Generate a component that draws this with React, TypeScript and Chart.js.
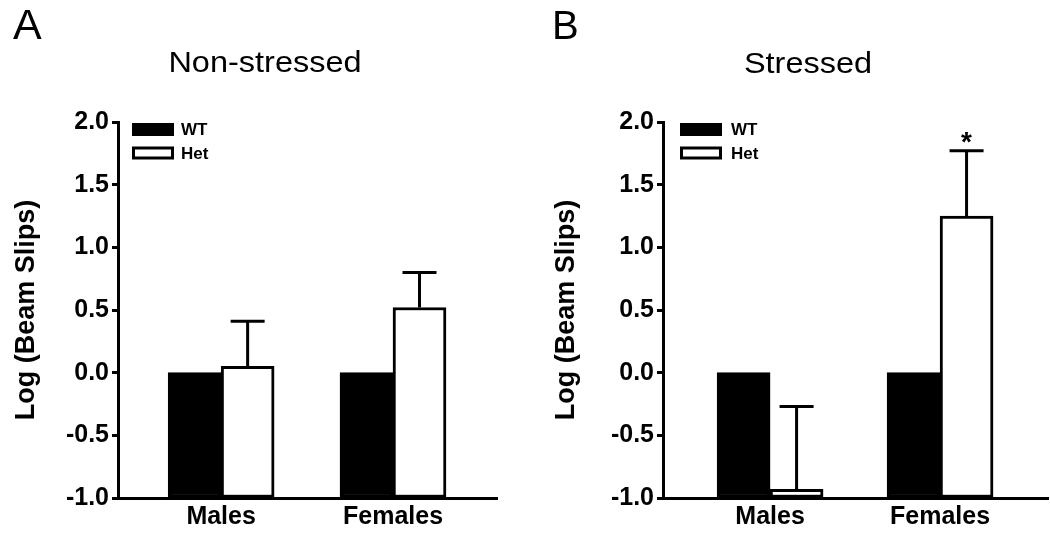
import { useEffect, useRef } from "react";
import { Chart, registerables } from "chart.js";

Chart.register(...registerables);

const FONT = "'Liberation Sans', Arial, Helvetica, sans-serif";

// ---- data ----
const categories = ["Males", "Females"];
const seriesNames = ["WT", "Het"];
const yTickValues = [-1, -0.5, 0, 0.5, 1, 1.5, 2];
const yAxisLabel = "Log (Beam Slips)";

const nonStressedWT = [0, 0];
const nonStressedWTErr = [0, 0];
const nonStressedHet = [0.05, 0.52];
const nonStressedHetErr = [0.36, 0.28];
const nonStressedHetSig = ["", ""];

const stressedWT = [0, 0];
const stressedWTErr = [0, 0];
const stressedHet = [-0.93, 1.25];
const stressedHetErr = [0.66, 0.52];
const stressedHetSig = ["", "*"];

const panelTitles = ["Non-stressed", "Stressed"];
const panelLetters = ["A", "B"];

// ---- layout (not data) ----
type Panel = {
  left: number;
  yAxisWidth: number;
  padRight: number;
  xMin: number;
  xMax: number;
  titlePad: number;
  legendOffset: number;
  legendGap: number;
  wt: number[];
  wtErr: number[];
  het: number[];
  hetErr: number[];
  hetSig: string[];
};

const panels: Panel[] = [
  {
    left: 0,
    yAxisWidth: 118,
    padRight: 28,
    xMin: -0.6,
    xMax: 1.605,
    titlePad: 10,
    legendOffset: 14,
    legendGap: 7,
    wt: nonStressedWT,
    wtErr: nonStressedWTErr,
    het: nonStressedHet,
    hetErr: nonStressedHetErr,
    hetSig: nonStressedHetSig,
  },
  {
    left: 525,
    yAxisWidth: 138,
    padRight: 2,
    xMin: -0.63,
    xMax: 1.635,
    titlePad: 25,
    legendOffset: 17,
    legendGap: 9,
    wt: stressedWT,
    wtErr: stressedWTErr,
    het: stressedHet,
    hetErr: stressedHetErr,
    hetSig: stressedHetSig,
  },
];

const errorBarPlugin = {
  id: "errorBars",
  afterDatasetsDraw(chart: any) {
    const ctx = chart.ctx;
    const yScale = chart.scales.y;
    ctx.save();
    ctx.strokeStyle = "#000";
    ctx.fillStyle = "#000";
    ctx.lineWidth = 3;
    ctx.lineCap = "butt";
    chart.data.datasets.forEach((ds: any, di: number) => {
      const meta = chart.getDatasetMeta(di);
      meta.data.forEach((el: any, i: number) => {
        const err = ds.errors ? ds.errors[i] : 0;
        const v = ds.data[i].y;
        const yBar = yScale.getPixelForValue(v);
        const yTop = yScale.getPixelForValue(v + (err || 0));
        if (err) {
          ctx.beginPath();
          ctx.moveTo(el.x, yBar);
          ctx.lineTo(el.x, yTop);
          ctx.moveTo(el.x - 17, yTop);
          ctx.lineTo(el.x + 17, yTop);
          ctx.stroke();
        }
        const sig = ds.sig ? ds.sig[i] : "";
        if (sig) {
          ctx.font = `bold 28px ${FONT}`;
          ctx.textAlign = "center";
          ctx.textBaseline = "alphabetic";
          ctx.fillText(sig, el.x, yTop);
        }
      });
    });
    ctx.restore();
  },
};

const legendPlugin = {
  id: "insideLegend",
  afterDraw(chart: any, _args: any, opts: any) {
    const ctx = chart.ctx;
    const { left, top } = chart.chartArea;
    ctx.save();
    chart.data.datasets.forEach((ds: any, i: number) => {
      const x = left + (opts.offset || 14);
      const y = top + 1 + i * 23.5;
      const w = 42;
      const h = 13;
      ctx.fillStyle = "#000";
      ctx.fillRect(x, y, w, h);
      if (ds.backgroundColor !== "#000") {
        ctx.fillStyle = ds.backgroundColor;
        ctx.fillRect(x + 3, y + 3, w - 6, h - 6);
      }
      ctx.fillStyle = "#000";
      ctx.font = `bold 17px ${FONT}`;
      ctx.textAlign = "left";
      ctx.textBaseline = "middle";
      ctx.fillText(ds.label, x + w + (opts.gap || 7), y + h / 2 + 1);
    });
    ctx.restore();
  },
};

function makeDataset(label: string, values: number[], errors: number[], sig: string[], color: string) {
  return {
    label,
    data: values.map((v, i) => ({ x: i, y: v })),
    errors,
    sig,
    backgroundColor: color,
    borderColor: "#000",
    borderWidth: 3,
    borderSkipped: false,
    base: -1,
    barThickness: 53,
  } as any;
}

function PanelChart({ p }: { p: Panel }) {
  const ref = useRef<HTMLCanvasElement | null>(null);
  useEffect(() => {
    if (!ref.current) return;
    const chart = new Chart(ref.current, {
      type: "bar",
      data: {
        datasets: [
          makeDataset(seriesNames[0], p.wt, p.wtErr, ["", ""], "#000"),
          makeDataset(seriesNames[1], p.het, p.hetErr, p.hetSig, "#fff"),
        ],
      },
      options: {
        animation: false,
        responsive: false,
        events: [],
        layout: { padding: { left: 0, right: p.padRight, top: 122, bottom: 0 } },
        plugins: {
          legend: { display: false },
          tooltip: { enabled: false },
          title: { display: false },
          insideLegend: { offset: p.legendOffset, gap: p.legendGap },
        } as any,
        scales: {
          x: {
            type: "linear",
            min: p.xMin,
            max: p.xMax,
            offset: false,
            grid: { display: false, drawTicks: false },
            border: { display: true, color: "#000", width: 3 },
            afterBuildTicks: (scale: any) => {
              scale.ticks = categories.map((_, i) => ({ value: i }));
            },
            afterFit: (scale: any) => {
              scale.height = 40;
            },
            ticks: {
              autoSkip: false,
              maxRotation: 0,
              padding: 4,
              color: "#000",
              font: { family: FONT, size: 25, weight: "bold" },
              callback: (v: any) => categories[Math.round(Number(v))] ?? "",
            },
          },
          y: {
            type: "linear",
            min: -1,
            max: 2,
            grid: {
              display: true,
              drawOnChartArea: false,
              drawTicks: true,
              tickLength: 6,
              tickWidth: 3,
              tickColor: "#000",
              color: "#000",
            },
            border: { display: true, color: "#000", width: 3 },
            afterBuildTicks: (scale: any) => {
              scale.ticks = yTickValues.map((v) => ({ value: v }));
            },
            afterFit: (scale: any) => {
              scale.width = p.yAxisWidth;
            },
            ticks: {
              padding: 3,
              color: "#000",
              font: { family: FONT, size: 25, weight: "bold" },
              callback: (v: any) => Number(v).toFixed(1),
            },
            title: {
              display: true,
              text: yAxisLabel,
              color: "#000",
              padding: { top: p.titlePad, bottom: 0 },
              font: { family: FONT, size: 27, weight: "bold" },
            },
          },
        },
      } as any,
      plugins: [errorBarPlugin, legendPlugin],
    });
    return () => chart.destroy();
  }, [p]);
  return (
    <canvas
      ref={ref}
      width={525}
      height={538}
      style={{ position: "absolute", left: p.left, top: 0, width: 525, height: 538, display: "block" }}
    />
  );
}

const textBase: any = {
  position: "absolute",
  fontFamily: FONT,
  color: "#000",
  lineHeight: 1,
  whiteSpace: "nowrap",
};

export default function App() {
  return (
    <div style={{ position: "absolute", left: 0, top: 0, width: 1050, height: 538, background: "#fff", overflow: "hidden" }}>
      {panels.map((p, i) => (
        <PanelChart key={i} p={p} />
      ))}
      <div style={{ ...textBase, left: 13, top: 3, fontSize: 43 }}>{panelLetters[0]}</div>
      <div style={{ ...textBase, left: 552, top: 5, fontSize: 40 }}>{panelLetters[1]}</div>
      <div
        style={{
          ...textBase,
          left: 65,
          width: 400,
          textAlign: "center",
          top: 48,
          fontSize: 29,
          transform: "scaleX(1.12)",
        }}
      >
        {panelTitles[0]}
      </div>
      <div
        style={{
          ...textBase,
          left: 608,
          width: 400,
          textAlign: "center",
          top: 49,
          fontSize: 29,
          transform: "scaleX(1.12)",
        }}
      >
        {panelTitles[1]}
      </div>
    </div>
  );
}
